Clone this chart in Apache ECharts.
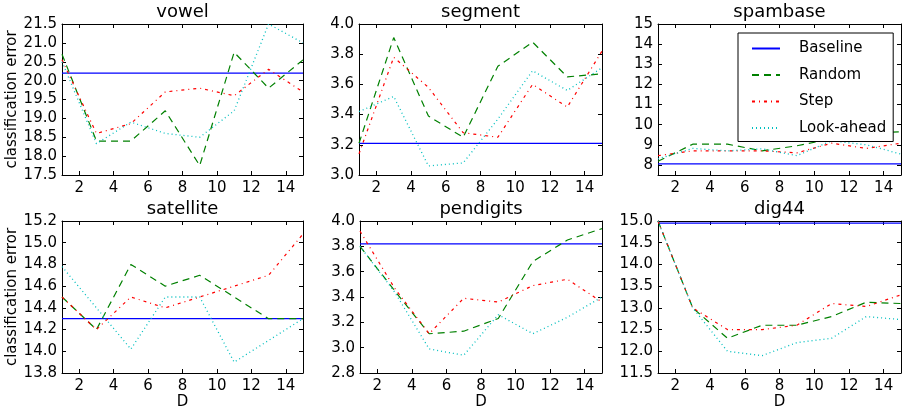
<!DOCTYPE html>
<html><head><meta charset="utf-8">
<script src="https://cdn.jsdelivr.net/npm/echarts@6/dist/echarts.min.js"></script>
<style>html,body{margin:0;padding:0;background:#fff}#c{width:919px;height:412px}</style>
</head><body><div id="c"></div>
<script>
const D = [1, 3, 5, 7, 9, 11, 13, 15];
const xTicks = [2, 4, 6, 8, 10, 12, 14];
const seriesNames = ['Baseline', 'Random', 'Step', 'Look-ahead'];

const vowelBaseline = 20.2;
const vowelRandom = [20.7, 18.4, 18.4, 19.2, 17.75, 20.75, 19.8, 20.55];
const vowelStep = [20.55, 18.6, 18.86, 19.7, 19.8, 19.6, 20.3, 19.7];
const vowelLook = [20.5, 18.33, 18.9, 18.6, 18.5, 19.2, 21.5, 21.0];

const segmentBaseline = 3.21;
const segmentRandom = [3.21, 3.91, 3.39, 3.25, 3.72, 3.88, 3.65, 3.67];
const segmentStep = [3.14, 3.78, 3.58, 3.28, 3.25, 3.6, 3.45, 3.82];
const segmentLook = [3.42, 3.52, 3.06, 3.08, 3.37, 3.69, 3.56, 3.71];

const spambaseBaseline = 8.05;
const spambaseRandom = [8.18, 9.03, 9.03, 8.7, 8.95, 9.3, 9.6, 9.64];
const spambaseStep = [8.46, 8.7, 8.7, 8.7, 8.6, 9.08, 8.82, 9.08];
const spambaseLook = [8.3, 8.82, 8.7, 8.8, 8.46, 9.2, 9.0, 8.54];

const satelliteBaseline = 14.3;
const satelliteRandom = [14.5, 14.2, 14.8, 14.6, 14.7, 14.5, 14.3, 14.3];
const satelliteStep = [14.5, 14.2, 14.5, 14.4, 14.5, 14.6, 14.7, 15.08];
const satelliteLook = [14.78, 14.4, 14.02, 14.5, 14.5, 13.9, 14.1, 14.3];

const pendigitsBaseline = 3.82;
const pendigitsRandom = [3.8, 3.45, 3.11, 3.13, 3.23, 3.68, 3.85, 3.94];
const pendigitsStep = [3.92, 3.47, 3.11, 3.39, 3.36, 3.49, 3.54, 3.36];
const pendigitsLook = [3.8, 3.44, 2.99, 2.94, 3.26, 3.11, 3.24, 3.4];

const dig44Baseline = 14.95;
const dig44Random = [15.0, 13.0, 12.3, 12.6, 12.6, 12.8, 13.13, 13.1];
const dig44Step = [15.0, 13.0, 12.5, 12.5, 12.6, 13.1, 13.03, 13.3];
const dig44Look = [15.0, 13.0, 12.0, 11.9, 12.2, 12.3, 12.8, 12.73];

const vowelYTicks = [17.5, 18.0, 18.5, 19.0, 19.5, 20.0, 20.5, 21.0, 21.5];
const segmentYTicks = [3.0, 3.2, 3.4, 3.6, 3.8, 4.0];
const spambaseYTicks = [8, 9, 10, 11, 12, 13, 14, 15];
const satelliteYTicks = [13.8, 14.0, 14.2, 14.4, 14.6, 14.8, 15.0, 15.2];
const pendigitsYTicks = [2.8, 3.0, 3.2, 3.4, 3.6, 3.8, 4.0];
const dig44YTicks = [11.5, 12.0, 12.5, 13.0, 13.5, 14.0, 14.5, 15.0];

const panels = [
  {title: 'vowel', base: vowelBaseline, r: vowelRandom, s: vowelStep, l: vowelLook, yt: vowelYTicks, ymin: 17.5, ymax: 21.5, dec: 1,
   g: {left: 62, top: 24, width: 241, height: 151}, ylab: true, xlab: false},
  {title: 'segment', base: segmentBaseline, r: segmentRandom, s: segmentStep, l: segmentLook, yt: segmentYTicks, ymin: 3.0, ymax: 4.0, dec: 1,
   g: {left: 359, top: 24, width: 243, height: 151}, ylab: false, xlab: false},
  {title: 'spambase', base: spambaseBaseline, r: spambaseRandom, s: spambaseStep, l: spambaseLook, yt: spambaseYTicks, ymin: 7.5, ymax: 15, dec: 0,
   g: {left: 658, top: 24, width: 243, height: 151}, ylab: false, xlab: false},
  {title: 'satellite', base: satelliteBaseline, r: satelliteRandom, s: satelliteStep, l: satelliteLook, yt: satelliteYTicks, ymin: 13.8, ymax: 15.2, dec: 1,
   g: {left: 62, top: 221, width: 241, height: 152}, ylab: true, xlab: true},
  {title: 'pendigits', base: pendigitsBaseline, r: pendigitsRandom, s: pendigitsStep, l: pendigitsLook, yt: pendigitsYTicks, ymin: 2.8, ymax: 4.0, dec: 1,
   g: {left: 360, top: 221, width: 242, height: 152}, ylab: false, xlab: true},
  {title: 'dig44', base: dig44Baseline, r: dig44Random, s: dig44Step, l: dig44Look, yt: dig44YTicks, ymin: 11.5, ymax: 15.0, dec: 1,
   g: {left: 658, top: 221, width: 243, height: 152}, ylab: false, xlab: true}
];

const FONT = 'DejaVu Sans';
const styles = {
  'Baseline': {color: '#0000ff', type: 'solid', width: 1.3},
  'Random': {color: '#008000', type: [7, 5], width: 1.2},
  'Step': {color: '#ff0000', type: [3, 4, 1, 4], width: 1.2},
  'Look-ahead': {color: '#00bfbf', type: [1, 3], width: 1.3}
};

const grid = [], xAxis = [], yAxis = [], series = [], graphic = [];
panels.forEach((p, i) => {
  grid.push(Object.assign({containLabel: false}, p.g));
  const tickBase = {show: true, inside: true, length: 4, lineStyle: {color: '#000', width: 1}};
  const lineBase = {show: true, lineStyle: {color: '#000', width: 1}};
  xAxis.push({
    type: 'value', gridIndex: i, min: 1, max: 15, position: 'bottom',
    axisLine: lineBase, splitLine: {show: false},
    axisTick: Object.assign({customValues: xTicks}, tickBase),
    axisLabel: {customValues: xTicks, color: '#000', fontFamily: FONT, fontSize: 15, margin: 6},
    name: p.xlab ? 'D' : '', nameLocation: 'middle', nameGap: 22,
    nameTextStyle: {color: '#000', fontFamily: FONT, fontSize: 15}
  });
  xAxis.push({
    type: 'value', gridIndex: i, min: 1, max: 15, position: 'top',
    axisLine: lineBase, splitLine: {show: false},
    axisTick: Object.assign({customValues: xTicks}, tickBase),
    axisLabel: {show: false, customValues: xTicks}
  });
  yAxis.push({
    type: 'value', gridIndex: i, min: p.ymin, max: p.ymax, position: 'left',
    axisLine: lineBase, splitLine: {show: false},
    axisTick: Object.assign({customValues: p.yt}, tickBase),
    axisLabel: {customValues: p.yt, color: '#000', fontFamily: FONT, fontSize: 15, margin: 5,
      formatter: v => v.toFixed(p.dec)},
    name: p.ylab ? 'classification error' : '', nameLocation: 'middle', nameGap: 40,
    nameTextStyle: {color: '#000', fontFamily: FONT, fontSize: 15}
  });
  yAxis.push({
    type: 'value', gridIndex: i, min: p.ymin, max: p.ymax, position: 'right',
    axisLine: lineBase, splitLine: {show: false},
    axisTick: Object.assign({customValues: p.yt}, tickBase),
    axisLabel: {show: false, customValues: p.yt}
  });
  const xi = 2 * i, yi = 2 * i;
  const mk = (name, data) => ({
    type: 'line', name, xAxisIndex: xi, yAxisIndex: yi, data,
    symbol: 'none', showSymbol: false, clip: true, z: 3,
    lineStyle: {color: styles[name].color, type: styles[name].type, width: styles[name].width},
    itemStyle: {color: styles[name].color}
  });
  series.push(mk('Baseline', [[1, p.base], [15, p.base]]));
  series.push(mk('Random', D.map((d, k) => [d, p.r[k]])));
  series.push(mk('Step', D.map((d, k) => [d, p.s[k]])));
  series.push(mk('Look-ahead', D.map((d, k) => [d, p.l[k]])));
  graphic.push({
    type: 'text', x: p.g.left + p.g.width / 2, y: p.g.top - 12,
    style: {text: p.title, font: '18px "DejaVu Sans"', fill: '#000', textAlign: 'center', textVerticalAlign: 'middle'}
  });
});

const chart = echarts.init(document.getElementById('c'), null, {renderer: 'canvas'});
chart.setOption({
  animation: false,
  backgroundColor: '#fff',
  grid, xAxis, yAxis, series, graphic,
  legend: {
    data: seriesNames, orient: 'vertical', left: 738, top: 33,
    backgroundColor: '#fff', borderColor: '#000', borderWidth: 1, borderRadius: 0,
    padding: [8, 7, 6, 13], itemGap: 11.5, itemWidth: 28, itemHeight: 14,
    itemStyle: {opacity: 0},
    textStyle: {color: '#000', fontFamily: FONT, fontSize: 15, padding: [0, 0, 0, 14]},
    selectedMode: false, z: 10
  }
});
</script></body></html>
